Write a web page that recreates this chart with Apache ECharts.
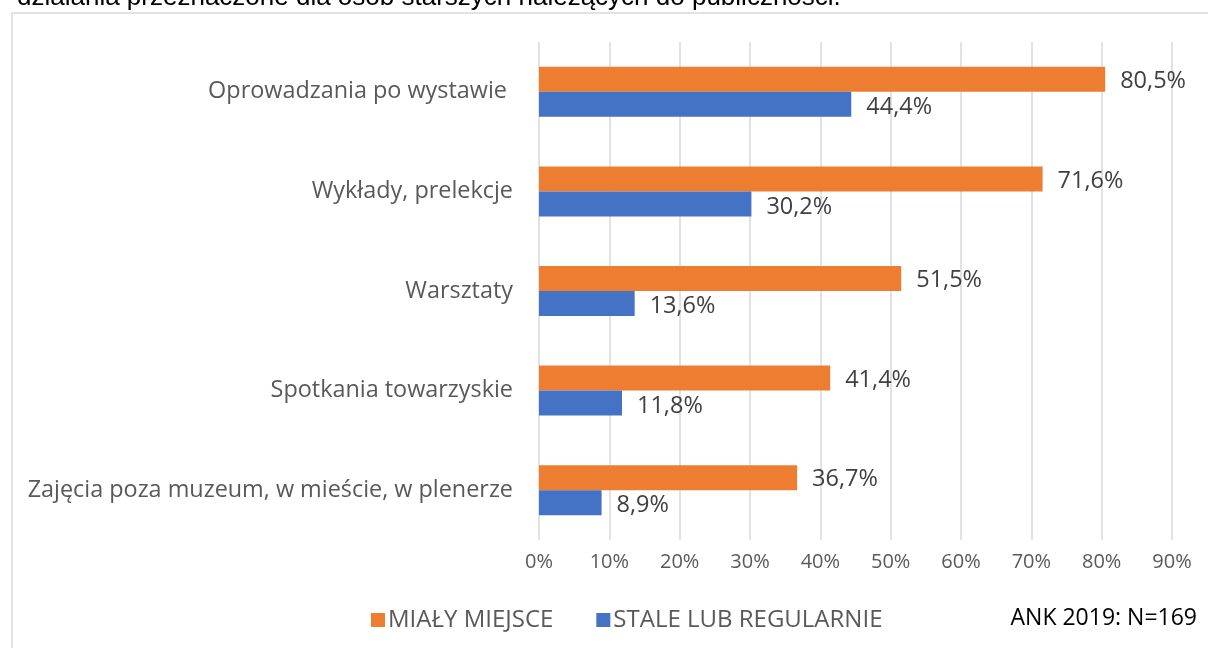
<!DOCTYPE html>
<html>
<head>
<meta charset="utf-8">
<script src="https://cdn.jsdelivr.net/npm/echarts@6/dist/echarts.min.js"></script>
<style>
  html, body { margin: 0; padding: 0; background: #fff; }
  #chart { width: 1208px; height: 648px; }
</style>
</head>
<body>
<div id="chart"></div>
<script>
// data
var categories = [
  'Oprowadzania po wystawie ',
  'Wykłady, prelekcje',
  'Warsztaty',
  'Spotkania towarzyskie',
  'Zajęcia poza muzeum, w mieście, w plenerze'
];
var mialyMiejsce = [80.5, 71.6, 51.5, 41.4, 36.7];
var staleLubRegularnie = [44.4, 30.2, 13.6, 11.8, 8.9];
var seriesNames = ['MIAŁY MIEJSCE', 'STALE LUB REGULARNIE'];
var topText = 'działania przeznaczone dla osób starszych należących do publiczności.';
var noteText = 'ANK 2019: N=169';

var font = '"Open Sans", "Noto Sans", sans-serif';

function pct(p) {
  return p.value.toFixed(1).replace('.', ',') + '%';
}

var myChart = echarts.init(document.getElementById('chart'));

var option = {
  animation: false,
  backgroundColor: '#fff',
  textStyle: { fontFamily: font },
  grid: { left: 539, right: 36, top: 42, bottom: 108 },
  legend: {
    data: seriesNames,
    left: 366,
    top: 603,
    itemWidth: 14,
    itemHeight: 14,
    itemGap: 43,
    icon: 'rect',
    textStyle: { fontFamily: font, fontSize: 24, color: '#595959', padding: [0, 0, 0, -2] }
  },
  xAxis: {
    type: 'value',
    min: 0,
    max: 90,
    interval: 10,
    axisLine: { show: false },
    axisTick: { show: false },
    axisLabel: {
      formatter: '{value}%',
      color: '#595959',
      fontSize: 20,
      fontFamily: font,
      margin: 12
    },
    splitLine: { lineStyle: { color: '#d9d9d9', width: 1.5 } }
  },
  yAxis: {
    type: 'category',
    data: categories,
    inverse: true,
    axisLine: { show: false },
    axisTick: { show: false },
    axisLabel: { color: '#595959', fontSize: 23.4, fontFamily: font, margin: 26 }
  },
  series: [
    {
      name: seriesNames[0],
      type: 'bar',
      data: mialyMiejsce,
      barWidth: 25,
      barGap: '0%',
      itemStyle: { color: '#ED7D31' },
      label: {
        show: true,
        position: 'right',
        distance: 15,
        offset: [0, 2],
        formatter: pct,
        color: '#404040',
        fontSize: 23.5,
        fontFamily: font
      }
    },
    {
      name: seriesNames[1],
      type: 'bar',
      data: staleLubRegularnie,
      barWidth: 25,
      itemStyle: { color: '#4472C4' },
      label: {
        show: true,
        position: 'right',
        distance: 15,
        offset: [0, 3],
        formatter: pct,
        color: '#404040',
        fontSize: 23.5,
        fontFamily: font
      }
    }
  ],
  graphic: [
    {
      type: 'rect',
      shape: { x: 12, y: 13, width: 1200, height: 700 },
      style: { fill: 'none', stroke: '#d9d9d9', lineWidth: 1.5 },
      silent: true
    },
    {
      type: 'text',
      x: 17,
      y: -2,
      style: {
        text: topText,
        fill: '#000',
        fontSize: 26,
        verticalAlign: 'middle',
        fontFamily: '"Liberation Sans", Arial, sans-serif'
      }
    },
    {
      type: 'text',
      right: 11,
      top: 607,
      style: { text: noteText, fill: '#000', fontSize: 23, fontFamily: font }
    }
  ]
};

myChart.setOption(option);
</script>
</body>
</html>
